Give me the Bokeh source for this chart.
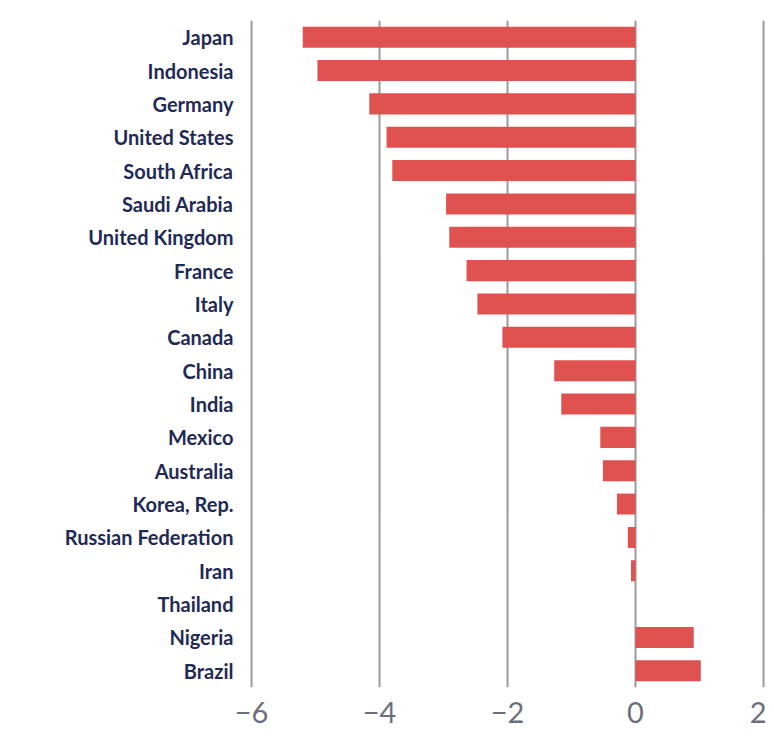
from bokeh.plotting import figure
from bokeh.models import Range1d, FactorRange
from bokeh.embed import file_html
from bokeh.resources import INLINE

countries = ["Japan", "Indonesia", "Germany", "United States", "South Africa",
             "Saudi Arabia", "United Kingdom", "France", "Italy", "Canada",
             "China", "India", "Mexico", "Australia", "Korea, Rep.",
             "Russian Federation", "Iran", "Thailand", "Nigeria", "Brazil"]
values = [-5.2, -4.97, -4.16, -3.89, -3.8,
          -2.96, -2.91, -2.64, -2.47, -2.08,
          -1.27, -1.16, -0.55, -0.51, -0.29,
          -0.12, -0.07, 0.0, 0.91, 1.02]
x_ticks = [-6, -4, -2, 0, 2]
x_tick_labels = ["\u22126", "\u22124", "\u22122", "0", "2"]

p = figure(width=766, height=734,
           y_range=FactorRange(*list(reversed(countries))),
           x_range=Range1d(-6.094, 2.047),
           output_backend="svg", toolbar_location=None,
           min_border_left=245, min_border_right=0,
           min_border_top=20, min_border_bottom=47)

p.hbar(y=countries, right=values, left=0, height=0.63,
       fill_color="#e0524f", line_color=None)

p.outline_line_color = None
p.background_fill_color = "white"
p.border_fill_color = "white"

p.ygrid.grid_line_color = None
p.xgrid.ticker = x_ticks
p.xgrid.grid_line_color = "#9a9a9a"
p.xgrid.grid_line_width = 2

p.xaxis.ticker = x_ticks
p.xaxis.major_label_overrides = {t: l for t, l in zip(x_ticks, x_tick_labels)}
p.xaxis.axis_line_color = None
p.xaxis.major_tick_line_color = None
p.xaxis.minor_tick_line_color = None
p.xaxis.major_tick_out = 0
p.xaxis.major_label_standoff = 14
p.xaxis.major_label_text_font = "Lato"
p.xaxis.major_label_text_font_size = "29px"
p.xaxis.major_label_text_color = "#6b6f7d"

p.yaxis.axis_line_color = None
p.yaxis.major_tick_line_color = None
p.yaxis.major_tick_out = 0
p.yaxis.major_label_standoff = 12
p.yaxis.major_label_text_font = "Lato"
p.yaxis.major_label_text_font_size = "20px"
p.yaxis.major_label_text_font_style = "bold"
p.yaxis.major_label_text_color = "#1f2a55"

open("out.html", "w").write(file_html(p, INLINE))
